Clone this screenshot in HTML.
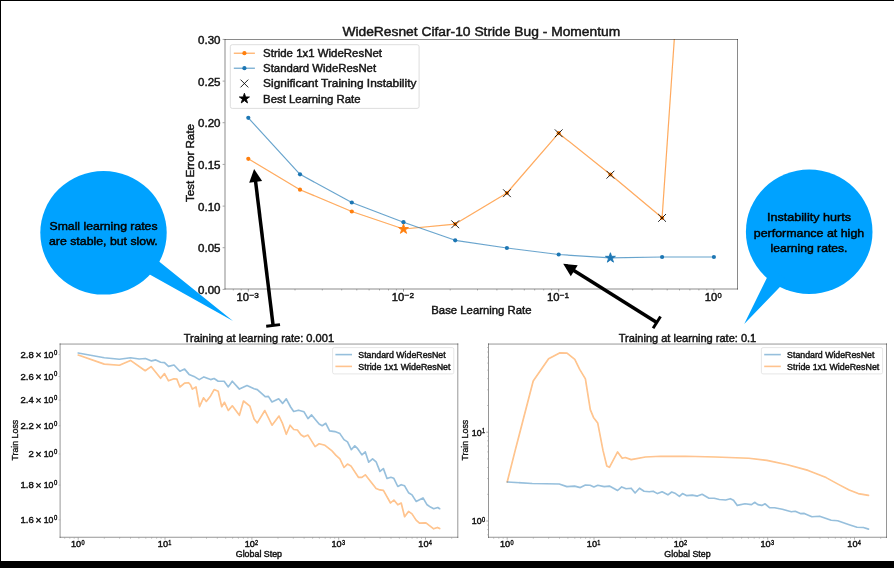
<!DOCTYPE html>
<html><head><meta charset="utf-8"><title>WideResnet Cifar-10 Stride Bug</title>
<style>html,body{margin:0;padding:0;background:#fff;}body{width:894px;height:568px;overflow:hidden;font-family:"Liberation Sans",sans-serif;}svg{display:block;will-change:transform;}text{white-space:pre;}</style></head>
<body>
<svg width="894" height="568" viewBox="0 0 894 568" font-family="'Liberation Sans', sans-serif">
<rect x="0" y="0" width="894" height="568" fill="#fff"/>
<filter id="soft" x="0" y="0" width="894" height="568" filterUnits="userSpaceOnUse"><feGaussianBlur stdDeviation="0.42"/></filter>
<g filter="url(#soft)">
<ellipse cx="103.5" cy="232.8" rx="63.2" ry="61.8" fill="#00a2ff"/>
<polygon points="151.9,255.7 159.7,262.0 233,321.1 150.6,275.1 141.9,270.2" fill="#00a2ff"/>
<ellipse cx="809.2" cy="231.7" rx="63.3" ry="62.3" fill="#00a2ff"/>
<polygon points="771.1,269.2 766.7,278.2 744.2,324.1 779.9,286.9 786.8,279.7" fill="#00a2ff"/>
<text x="103.5" y="229.6" font-size="11.5" text-anchor="middle" fill="#000" textLength="108.0" lengthAdjust="spacingAndGlyphs" stroke="#000" stroke-width="0.45">Small learning rates</text>
<text x="103.4" y="244.9" font-size="11.5" text-anchor="middle" fill="#000" textLength="108.8" lengthAdjust="spacingAndGlyphs" stroke="#000" stroke-width="0.45">are stable, but slow.</text>
<text x="809.0" y="221.3" font-size="11.5" text-anchor="middle" fill="#000" textLength="84.0" lengthAdjust="spacingAndGlyphs" stroke="#000" stroke-width="0.45">Instability hurts</text>
<text x="809.0" y="236.5" font-size="11.5" text-anchor="middle" fill="#000" textLength="110.4" lengthAdjust="spacingAndGlyphs" stroke="#000" stroke-width="0.45">performance at high</text>
<text x="809.0" y="251.6" font-size="11.5" text-anchor="middle" fill="#000" textLength="77.0" lengthAdjust="spacingAndGlyphs" stroke="#000" stroke-width="0.45">learning rates.</text>
<clipPath id="c1"><rect x="224.5" y="39.0" width="513.0" height="250.0"/></clipPath>
<polyline points="248.3,158.8 300.0,189.7 351.8,211.5 403.5,229.0 455.2,224.1 506.9,193.0 558.7,133.2 610.4,174.5 662.1,217.8 679.0,-29.6" fill="none" stroke="#ff7f0e" stroke-width="1.2" stroke-opacity="0.67" stroke-linejoin="round" stroke-linecap="round" clip-path="url(#c1)"/>
<polyline points="248.3,117.8 300.0,174.3 351.8,202.5 403.5,222.2 455.2,240.3 506.9,248.0 558.7,254.5 610.4,257.9 662.1,257.0 713.9,257.0" fill="none" stroke="#1f77b4" stroke-width="1.2" stroke-opacity="0.67" stroke-linejoin="round" stroke-linecap="round" clip-path="url(#c1)"/>
<circle cx="248.3" cy="158.8" r="2.1" fill="#ff7f0e"/>
<circle cx="300.0" cy="189.7" r="2.1" fill="#ff7f0e"/>
<circle cx="351.8" cy="211.5" r="2.1" fill="#ff7f0e"/>
<circle cx="455.2" cy="224.1" r="2.1" fill="#ff7f0e"/>
<circle cx="506.9" cy="193.0" r="2.1" fill="#ff7f0e"/>
<circle cx="558.7" cy="133.2" r="2.1" fill="#ff7f0e"/>
<circle cx="610.4" cy="174.5" r="2.1" fill="#ff7f0e"/>
<circle cx="662.1" cy="217.8" r="2.1" fill="#ff7f0e"/>
<circle cx="248.3" cy="117.8" r="2.1" fill="#1f77b4"/>
<circle cx="300.0" cy="174.3" r="2.1" fill="#1f77b4"/>
<circle cx="351.8" cy="202.5" r="2.1" fill="#1f77b4"/>
<circle cx="403.5" cy="222.2" r="2.1" fill="#1f77b4"/>
<circle cx="455.2" cy="240.3" r="2.1" fill="#1f77b4"/>
<circle cx="506.9" cy="248.0" r="2.1" fill="#1f77b4"/>
<circle cx="558.7" cy="254.5" r="2.1" fill="#1f77b4"/>
<circle cx="662.1" cy="257.0" r="2.1" fill="#1f77b4"/>
<circle cx="713.9" cy="257.0" r="2.1" fill="#1f77b4"/>
<polygon points="403.49,223.95 404.66,227.54 408.44,227.54 405.38,229.76 406.55,233.36 403.49,231.14 400.43,233.36 401.60,229.76 398.54,227.54 402.32,227.54" fill="#ff7f0e" stroke="#ff7f0e" stroke-width="0.9" stroke-linejoin="miter"/>
<polygon points="610.41,252.75 611.58,256.34 615.36,256.34 612.30,258.56 613.47,262.16 610.41,259.94 607.35,262.16 608.52,258.56 605.46,256.34 609.24,256.34" fill="#1f77b4" stroke="#1f77b4" stroke-width="0.9" stroke-linejoin="miter"/>
<path d="M451.3,220.4L459.1,228.2M451.3,228.2L459.1,220.4" stroke="#000" stroke-width="1.0" stroke-opacity="0.85" fill="none"/>
<path d="M503.1,189.3L510.8,197.1M503.1,197.1L510.8,189.3" stroke="#000" stroke-width="1.0" stroke-opacity="0.85" fill="none"/>
<path d="M554.8,129.4L562.6,137.2M554.8,137.2L562.6,129.4" stroke="#000" stroke-width="1.0" stroke-opacity="0.85" fill="none"/>
<path d="M606.5,170.8L614.3,178.6M606.5,178.6L614.3,170.8" stroke="#000" stroke-width="1.0" stroke-opacity="0.85" fill="none"/>
<path d="M658.2,214.0L666.0,221.8M658.2,221.8L666.0,214.0" stroke="#000" stroke-width="1.0" stroke-opacity="0.85" fill="none"/>
<line x1="224.5" x2="738" y1="39.5" y2="39.5" stroke="#000" stroke-opacity="0.46" stroke-width="1"/>
<line x1="224.5" x2="738" y1="289.0" y2="289.0" stroke="#000" stroke-opacity="0.46" stroke-width="1"/>
<line x1="225.0" x2="225.0" y1="39" y2="289.5" stroke="#000" stroke-opacity="0.46" stroke-width="1"/>
<line x1="737.5" x2="737.5" y1="39" y2="289.5" stroke="#000" stroke-opacity="0.46" stroke-width="1"/>
<line x1="222.6" x2="224.5" y1="289.4" y2="289.4" stroke="#000" stroke-opacity="0.45" stroke-width="0.8"/>
<text x="220.5" y="293.9" font-size="10.2" text-anchor="end" fill="#141414" textLength="22.4" lengthAdjust="spacingAndGlyphs" stroke="#141414" stroke-width="0.42">0.00</text>
<line x1="222.6" x2="224.5" y1="247.7" y2="247.7" stroke="#000" stroke-opacity="0.45" stroke-width="0.8"/>
<text x="220.5" y="252.2" font-size="10.2" text-anchor="end" fill="#141414" textLength="22.4" lengthAdjust="spacingAndGlyphs" stroke="#141414" stroke-width="0.42">0.05</text>
<line x1="222.6" x2="224.5" y1="206.1" y2="206.1" stroke="#000" stroke-opacity="0.45" stroke-width="0.8"/>
<text x="220.5" y="210.5" font-size="10.2" text-anchor="end" fill="#141414" textLength="22.4" lengthAdjust="spacingAndGlyphs" stroke="#141414" stroke-width="0.42">0.10</text>
<line x1="222.6" x2="224.5" y1="164.4" y2="164.4" stroke="#000" stroke-opacity="0.45" stroke-width="0.8"/>
<text x="220.5" y="168.8" font-size="10.2" text-anchor="end" fill="#141414" textLength="22.4" lengthAdjust="spacingAndGlyphs" stroke="#141414" stroke-width="0.42">0.15</text>
<line x1="222.6" x2="224.5" y1="122.7" y2="122.7" stroke="#000" stroke-opacity="0.45" stroke-width="0.8"/>
<text x="220.5" y="127.2" font-size="10.2" text-anchor="end" fill="#141414" textLength="22.4" lengthAdjust="spacingAndGlyphs" stroke="#141414" stroke-width="0.42">0.20</text>
<line x1="222.6" x2="224.5" y1="81.1" y2="81.1" stroke="#000" stroke-opacity="0.45" stroke-width="0.8"/>
<text x="220.5" y="85.5" font-size="10.2" text-anchor="end" fill="#141414" textLength="22.4" lengthAdjust="spacingAndGlyphs" stroke="#141414" stroke-width="0.42">0.25</text>
<line x1="222.6" x2="224.5" y1="39.4" y2="39.4" stroke="#000" stroke-opacity="0.45" stroke-width="0.8"/>
<text x="220.5" y="43.8" font-size="10.2" text-anchor="end" fill="#141414" textLength="22.4" lengthAdjust="spacingAndGlyphs" stroke="#141414" stroke-width="0.42">0.30</text>
<line x1="248.3" x2="248.3" y1="289.0" y2="291.6" stroke="#000" stroke-opacity="0.45" stroke-width="0.8"/>
<text x="236.5" y="301.2" font-size="10.4" text-anchor="start" fill="#141414" textLength="12.5" lengthAdjust="spacingAndGlyphs" stroke="#141414" stroke-width="0.42">10</text>
<text x="249.4" y="297.5" font-size="8.0" text-anchor="start" fill="#141414" textLength="9.4" lengthAdjust="spacingAndGlyphs" stroke="#141414" stroke-width="0.42">−3</text>
<line x1="403.5" x2="403.5" y1="289.0" y2="291.6" stroke="#000" stroke-opacity="0.45" stroke-width="0.8"/>
<text x="391.7" y="301.2" font-size="10.4" text-anchor="start" fill="#141414" textLength="12.5" lengthAdjust="spacingAndGlyphs" stroke="#141414" stroke-width="0.42">10</text>
<text x="404.6" y="297.5" font-size="8.0" text-anchor="start" fill="#141414" textLength="9.4" lengthAdjust="spacingAndGlyphs" stroke="#141414" stroke-width="0.42">−2</text>
<line x1="558.7" x2="558.7" y1="289.0" y2="291.6" stroke="#000" stroke-opacity="0.45" stroke-width="0.8"/>
<text x="546.9" y="301.2" font-size="10.4" text-anchor="start" fill="#141414" textLength="12.5" lengthAdjust="spacingAndGlyphs" stroke="#141414" stroke-width="0.42">10</text>
<text x="559.8" y="297.5" font-size="8.0" text-anchor="start" fill="#141414" textLength="9.4" lengthAdjust="spacingAndGlyphs" stroke="#141414" stroke-width="0.42">−1</text>
<line x1="713.9" x2="713.9" y1="289.0" y2="291.6" stroke="#000" stroke-opacity="0.45" stroke-width="0.8"/>
<text x="704.7" y="301.2" font-size="10.4" text-anchor="start" fill="#141414" textLength="12.5" lengthAdjust="spacingAndGlyphs" stroke="#141414" stroke-width="0.42">10</text>
<text x="717.6" y="297.5" font-size="8.0" text-anchor="start" fill="#141414" textLength="4.2" lengthAdjust="spacingAndGlyphs" stroke="#141414" stroke-width="0.42">0</text>
<line x1="233.3" x2="233.3" y1="289.0" y2="290.6" stroke="#000" stroke-opacity="0.4" stroke-width="0.6"/>
<line x1="241.2" x2="241.2" y1="289.0" y2="290.6" stroke="#000" stroke-opacity="0.4" stroke-width="0.6"/>
<line x1="295.0" x2="295.0" y1="289.0" y2="290.6" stroke="#000" stroke-opacity="0.4" stroke-width="0.6"/>
<line x1="322.3" x2="322.3" y1="289.0" y2="290.6" stroke="#000" stroke-opacity="0.4" stroke-width="0.6"/>
<line x1="341.7" x2="341.7" y1="289.0" y2="290.6" stroke="#000" stroke-opacity="0.4" stroke-width="0.6"/>
<line x1="356.8" x2="356.8" y1="289.0" y2="290.6" stroke="#000" stroke-opacity="0.4" stroke-width="0.6"/>
<line x1="369.1" x2="369.1" y1="289.0" y2="290.6" stroke="#000" stroke-opacity="0.4" stroke-width="0.6"/>
<line x1="379.5" x2="379.5" y1="289.0" y2="290.6" stroke="#000" stroke-opacity="0.4" stroke-width="0.6"/>
<line x1="388.5" x2="388.5" y1="289.0" y2="290.6" stroke="#000" stroke-opacity="0.4" stroke-width="0.6"/>
<line x1="396.4" x2="396.4" y1="289.0" y2="290.6" stroke="#000" stroke-opacity="0.4" stroke-width="0.6"/>
<line x1="450.2" x2="450.2" y1="289.0" y2="290.6" stroke="#000" stroke-opacity="0.4" stroke-width="0.6"/>
<line x1="477.5" x2="477.5" y1="289.0" y2="290.6" stroke="#000" stroke-opacity="0.4" stroke-width="0.6"/>
<line x1="496.9" x2="496.9" y1="289.0" y2="290.6" stroke="#000" stroke-opacity="0.4" stroke-width="0.6"/>
<line x1="512.0" x2="512.0" y1="289.0" y2="290.6" stroke="#000" stroke-opacity="0.4" stroke-width="0.6"/>
<line x1="524.3" x2="524.3" y1="289.0" y2="290.6" stroke="#000" stroke-opacity="0.4" stroke-width="0.6"/>
<line x1="534.7" x2="534.7" y1="289.0" y2="290.6" stroke="#000" stroke-opacity="0.4" stroke-width="0.6"/>
<line x1="543.7" x2="543.7" y1="289.0" y2="290.6" stroke="#000" stroke-opacity="0.4" stroke-width="0.6"/>
<line x1="551.6" x2="551.6" y1="289.0" y2="290.6" stroke="#000" stroke-opacity="0.4" stroke-width="0.6"/>
<line x1="605.4" x2="605.4" y1="289.0" y2="290.6" stroke="#000" stroke-opacity="0.4" stroke-width="0.6"/>
<line x1="632.7" x2="632.7" y1="289.0" y2="290.6" stroke="#000" stroke-opacity="0.4" stroke-width="0.6"/>
<line x1="652.1" x2="652.1" y1="289.0" y2="290.6" stroke="#000" stroke-opacity="0.4" stroke-width="0.6"/>
<line x1="667.2" x2="667.2" y1="289.0" y2="290.6" stroke="#000" stroke-opacity="0.4" stroke-width="0.6"/>
<line x1="679.5" x2="679.5" y1="289.0" y2="290.6" stroke="#000" stroke-opacity="0.4" stroke-width="0.6"/>
<line x1="689.9" x2="689.9" y1="289.0" y2="290.6" stroke="#000" stroke-opacity="0.4" stroke-width="0.6"/>
<line x1="698.9" x2="698.9" y1="289.0" y2="290.6" stroke="#000" stroke-opacity="0.4" stroke-width="0.6"/>
<line x1="706.8" x2="706.8" y1="289.0" y2="290.6" stroke="#000" stroke-opacity="0.4" stroke-width="0.6"/>
<text x="481.4" y="313.5" font-size="10.4" text-anchor="middle" fill="#141414" textLength="100.2" lengthAdjust="spacingAndGlyphs" stroke="#141414" stroke-width="0.42">Base Learning Rate</text>
<text transform="translate(193.9,163) rotate(-90)" font-size="10.4" text-anchor="middle" fill="#141414" stroke="#141414" stroke-width="0.42" textLength="78" lengthAdjust="spacingAndGlyphs">Test Error Rate</text>
<text x="481.3" y="36.1" font-size="12.5" text-anchor="middle" fill="#141414" textLength="277.8" lengthAdjust="spacingAndGlyphs" stroke="#141414" stroke-width="0.42">WideResnet Cifar-10 Stride Bug - Momentum</text>
<rect x="230.3" y="44.7" width="188.8" height="63.7" rx="2" fill="#fff" fill-opacity="0.8" stroke="#d4d4d4" stroke-width="0.8"/>
<line x1="233.8" x2="254.9" y1="53.2" y2="53.2" stroke="#ff7f0e" stroke-width="1.1" stroke-opacity="0.72"/><circle cx="244.4" cy="53.2" r="2.1" fill="#ff7f0e"/>
<line x1="233.8" x2="254.9" y1="68.2" y2="68.2" stroke="#1f77b4" stroke-width="1.1" stroke-opacity="0.72"/><circle cx="244.4" cy="68.2" r="2.1" fill="#1f77b4"/>
<path d="M240.5,79.6L248.3,87.4M240.5,87.4L248.3,79.6" stroke="#000" stroke-width="1.0" stroke-opacity="0.85" fill="none"/>
<polygon points="244.40,93.30 245.59,96.96 249.44,96.96 246.33,99.23 247.52,102.89 244.40,100.62 241.28,102.89 242.47,99.23 239.36,96.96 243.21,96.96" fill="#000" stroke="#000" stroke-width="0.9" stroke-linejoin="miter"/>
<text x="263.1" y="56.7" font-size="10.4" text-anchor="start" fill="#141414" textLength="118.9" lengthAdjust="spacingAndGlyphs" stroke="#141414" stroke-width="0.42">Stride 1x1 WideResNet</text>
<text x="263.1" y="72.0" font-size="10.4" text-anchor="start" fill="#141414" textLength="113.0" lengthAdjust="spacingAndGlyphs" stroke="#141414" stroke-width="0.42">Standard WideResNet</text>
<text x="263.1" y="87.4" font-size="10.4" text-anchor="start" fill="#141414" textLength="153.3" lengthAdjust="spacingAndGlyphs" stroke="#141414" stroke-width="0.42">Significant Training Instability</text>
<text x="263.1" y="102.7" font-size="10.4" text-anchor="start" fill="#141414" textLength="97.4" lengthAdjust="spacingAndGlyphs" stroke="#141414" stroke-width="0.42">Best Learning Rate</text>
<line x1="273.1" y1="325.4" x2="255.5" y2="180.9" stroke="#000" stroke-width="3.5"/>
<polygon points="254.1,169.0 262.1,181.1 249.2,182.7" fill="#000"/>
<line x1="280.0" y1="324.6" x2="266.2" y2="326.2" stroke="#000" stroke-width="2.9"/>
<line x1="656.8" y1="322.4" x2="573.4" y2="270.2" stroke="#000" stroke-width="3.5"/>
<polygon points="563.2,263.8 577.7,265.2 570.8,276.2" fill="#000"/>
<line x1="660.5" y1="316.5" x2="653.1" y2="328.3" stroke="#000" stroke-width="2.9"/>
<line x1="59.6" x2="458.3" y1="344.05" y2="344.05" stroke="#000" stroke-opacity="0.41" stroke-width="1"/>
<line x1="59.6" x2="458.3" y1="537.25" y2="537.25" stroke="#000" stroke-opacity="0.41" stroke-width="1"/>
<line x1="60.1" x2="60.1" y1="343.4" y2="537.8" stroke="#000" stroke-opacity="0.41" stroke-width="1"/>
<line x1="457.8" x2="457.8" y1="343.4" y2="537.8" stroke="#000" stroke-opacity="0.41" stroke-width="1"/>
<text x="258.9" y="341.6" font-size="10" text-anchor="middle" fill="#141414" textLength="150.4" lengthAdjust="spacingAndGlyphs" stroke="#141414" stroke-width="0.42">Training at learning rate: 0.001</text>
<text x="258.9" y="556.6" font-size="8.3" text-anchor="middle" fill="#141414" textLength="46.3" lengthAdjust="spacingAndGlyphs" stroke="#141414" stroke-width="0.42">Global Step</text>
<rect x="332.6" y="347.6" width="121.2" height="26.3" rx="1.6" fill="#fff" stroke="#dcdcdc" stroke-width="0.7"/>
<line x1="335.40000000000003" x2="352.0" y1="354.6" y2="354.6" stroke="#1f77b4" stroke-width="1.6" stroke-opacity="0.47"/>
<line x1="335.40000000000003" x2="352.0" y1="366.4" y2="366.4" stroke="#ff7f0e" stroke-width="1.6" stroke-opacity="0.47"/>
<text x="358.3" y="358.0" font-size="8.3" text-anchor="start" fill="#141414" textLength="87.3" lengthAdjust="spacingAndGlyphs" stroke="#141414" stroke-width="0.42">Standard WideResNet</text>
<text x="358.3" y="369.8" font-size="8.3" text-anchor="start" fill="#141414" textLength="92.2" lengthAdjust="spacingAndGlyphs" stroke="#141414" stroke-width="0.42">Stride 1x1 WideResNet</text>
<line x1="78.2" x2="78.2" y1="537.3" y2="539.6999999999999" stroke="#8e8e8e" stroke-width="0.7"/>
<text x="71.0" y="547.0" font-size="8.3" text-anchor="start" fill="#141414" textLength="10.2" lengthAdjust="spacingAndGlyphs" stroke="#141414" stroke-width="0.42">10</text>
<text x="81.4" y="544.6" font-size="6.6" text-anchor="start" fill="#141414" textLength="3.1" lengthAdjust="spacingAndGlyphs" stroke="#141414" stroke-width="0.42">0</text>
<line x1="165.0" x2="165.0" y1="537.3" y2="539.6999999999999" stroke="#8e8e8e" stroke-width="0.7"/>
<text x="157.8" y="547.0" font-size="8.3" text-anchor="start" fill="#141414" textLength="10.2" lengthAdjust="spacingAndGlyphs" stroke="#141414" stroke-width="0.42">10</text>
<text x="168.2" y="544.6" font-size="6.6" text-anchor="start" fill="#141414" textLength="3.1" lengthAdjust="spacingAndGlyphs" stroke="#141414" stroke-width="0.42">1</text>
<line x1="251.9" x2="251.9" y1="537.3" y2="539.6999999999999" stroke="#8e8e8e" stroke-width="0.7"/>
<text x="244.7" y="547.0" font-size="8.3" text-anchor="start" fill="#141414" textLength="10.2" lengthAdjust="spacingAndGlyphs" stroke="#141414" stroke-width="0.42">10</text>
<text x="255.1" y="544.6" font-size="6.6" text-anchor="start" fill="#141414" textLength="3.1" lengthAdjust="spacingAndGlyphs" stroke="#141414" stroke-width="0.42">2</text>
<line x1="338.7" x2="338.7" y1="537.3" y2="539.6999999999999" stroke="#8e8e8e" stroke-width="0.7"/>
<text x="331.5" y="547.0" font-size="8.3" text-anchor="start" fill="#141414" textLength="10.2" lengthAdjust="spacingAndGlyphs" stroke="#141414" stroke-width="0.42">10</text>
<text x="341.9" y="544.6" font-size="6.6" text-anchor="start" fill="#141414" textLength="3.1" lengthAdjust="spacingAndGlyphs" stroke="#141414" stroke-width="0.42">3</text>
<line x1="425.5" x2="425.5" y1="537.3" y2="539.6999999999999" stroke="#8e8e8e" stroke-width="0.7"/>
<text x="418.3" y="547.0" font-size="8.3" text-anchor="start" fill="#141414" textLength="10.2" lengthAdjust="spacingAndGlyphs" stroke="#141414" stroke-width="0.42">10</text>
<text x="428.7" y="544.6" font-size="6.6" text-anchor="start" fill="#141414" textLength="3.1" lengthAdjust="spacingAndGlyphs" stroke="#141414" stroke-width="0.42">4</text>
<line x1="64.7" x2="64.7" y1="537.3" y2="538.8" stroke="#8e8e8e" stroke-width="0.5"/>
<line x1="69.8" x2="69.8" y1="537.3" y2="538.8" stroke="#8e8e8e" stroke-width="0.5"/>
<line x1="74.2" x2="74.2" y1="537.3" y2="538.8" stroke="#8e8e8e" stroke-width="0.5"/>
<line x1="104.3" x2="104.3" y1="537.3" y2="538.8" stroke="#8e8e8e" stroke-width="0.5"/>
<line x1="119.6" x2="119.6" y1="537.3" y2="538.8" stroke="#8e8e8e" stroke-width="0.5"/>
<line x1="130.5" x2="130.5" y1="537.3" y2="538.8" stroke="#8e8e8e" stroke-width="0.5"/>
<line x1="138.9" x2="138.9" y1="537.3" y2="538.8" stroke="#8e8e8e" stroke-width="0.5"/>
<line x1="145.8" x2="145.8" y1="537.3" y2="538.8" stroke="#8e8e8e" stroke-width="0.5"/>
<line x1="151.6" x2="151.6" y1="537.3" y2="538.8" stroke="#8e8e8e" stroke-width="0.5"/>
<line x1="156.6" x2="156.6" y1="537.3" y2="538.8" stroke="#8e8e8e" stroke-width="0.5"/>
<line x1="161.1" x2="161.1" y1="537.3" y2="538.8" stroke="#8e8e8e" stroke-width="0.5"/>
<line x1="191.2" x2="191.2" y1="537.3" y2="538.8" stroke="#8e8e8e" stroke-width="0.5"/>
<line x1="206.5" x2="206.5" y1="537.3" y2="538.8" stroke="#8e8e8e" stroke-width="0.5"/>
<line x1="217.3" x2="217.3" y1="537.3" y2="538.8" stroke="#8e8e8e" stroke-width="0.5"/>
<line x1="225.7" x2="225.7" y1="537.3" y2="538.8" stroke="#8e8e8e" stroke-width="0.5"/>
<line x1="232.6" x2="232.6" y1="537.3" y2="538.8" stroke="#8e8e8e" stroke-width="0.5"/>
<line x1="238.4" x2="238.4" y1="537.3" y2="538.8" stroke="#8e8e8e" stroke-width="0.5"/>
<line x1="243.4" x2="243.4" y1="537.3" y2="538.8" stroke="#8e8e8e" stroke-width="0.5"/>
<line x1="247.9" x2="247.9" y1="537.3" y2="538.8" stroke="#8e8e8e" stroke-width="0.5"/>
<line x1="278.0" x2="278.0" y1="537.3" y2="538.8" stroke="#8e8e8e" stroke-width="0.5"/>
<line x1="293.3" x2="293.3" y1="537.3" y2="538.8" stroke="#8e8e8e" stroke-width="0.5"/>
<line x1="304.1" x2="304.1" y1="537.3" y2="538.8" stroke="#8e8e8e" stroke-width="0.5"/>
<line x1="312.6" x2="312.6" y1="537.3" y2="538.8" stroke="#8e8e8e" stroke-width="0.5"/>
<line x1="319.4" x2="319.4" y1="537.3" y2="538.8" stroke="#8e8e8e" stroke-width="0.5"/>
<line x1="325.2" x2="325.2" y1="537.3" y2="538.8" stroke="#8e8e8e" stroke-width="0.5"/>
<line x1="330.3" x2="330.3" y1="537.3" y2="538.8" stroke="#8e8e8e" stroke-width="0.5"/>
<line x1="334.7" x2="334.7" y1="537.3" y2="538.8" stroke="#8e8e8e" stroke-width="0.5"/>
<line x1="364.8" x2="364.8" y1="537.3" y2="538.8" stroke="#8e8e8e" stroke-width="0.5"/>
<line x1="380.1" x2="380.1" y1="537.3" y2="538.8" stroke="#8e8e8e" stroke-width="0.5"/>
<line x1="391.0" x2="391.0" y1="537.3" y2="538.8" stroke="#8e8e8e" stroke-width="0.5"/>
<line x1="399.4" x2="399.4" y1="537.3" y2="538.8" stroke="#8e8e8e" stroke-width="0.5"/>
<line x1="406.3" x2="406.3" y1="537.3" y2="538.8" stroke="#8e8e8e" stroke-width="0.5"/>
<line x1="412.1" x2="412.1" y1="537.3" y2="538.8" stroke="#8e8e8e" stroke-width="0.5"/>
<line x1="417.1" x2="417.1" y1="537.3" y2="538.8" stroke="#8e8e8e" stroke-width="0.5"/>
<line x1="421.5" x2="421.5" y1="537.3" y2="538.8" stroke="#8e8e8e" stroke-width="0.5"/>
<line x1="451.7" x2="451.7" y1="537.3" y2="538.8" stroke="#8e8e8e" stroke-width="0.5"/>
<text transform="translate(17.8,440.2) rotate(-90)" font-size="9" text-anchor="middle" fill="#141414" stroke="#141414" stroke-width="0.33" textLength="40.8" lengthAdjust="spacingAndGlyphs">Train Loss</text>
<line x1="58.5" x2="60.1" y1="354.6" y2="354.6" stroke="#8e8e8e" stroke-width="0.5"/>
<text x="54.0" y="354.5" font-size="6.6" text-anchor="start" fill="#141414" textLength="3.3" lengthAdjust="spacingAndGlyphs" stroke="#141414" stroke-width="0.42">0</text>
<text x="43.7" y="357.6" font-size="8.6" text-anchor="start" fill="#141414" textLength="9.7" lengthAdjust="spacingAndGlyphs" stroke="#141414" stroke-width="0.42">10</text>
<path d="M36.3,352.6l4.4,4.6m0,-4.6l-4.4,4.6" stroke="#141414" stroke-width="1.2" fill="none"/>
<text x="20.6" y="357.6" font-size="8.6" text-anchor="start" fill="#141414" textLength="13.2" lengthAdjust="spacingAndGlyphs" stroke="#141414" stroke-width="0.42">2.8</text>
<line x1="58.5" x2="60.1" y1="376.5" y2="376.5" stroke="#8e8e8e" stroke-width="0.5"/>
<text x="54.0" y="376.4" font-size="6.6" text-anchor="start" fill="#141414" textLength="3.3" lengthAdjust="spacingAndGlyphs" stroke="#141414" stroke-width="0.42">0</text>
<text x="43.7" y="379.5" font-size="8.6" text-anchor="start" fill="#141414" textLength="9.7" lengthAdjust="spacingAndGlyphs" stroke="#141414" stroke-width="0.42">10</text>
<path d="M36.3,374.5l4.4,4.6m0,-4.6l-4.4,4.6" stroke="#141414" stroke-width="1.2" fill="none"/>
<text x="20.6" y="379.5" font-size="8.6" text-anchor="start" fill="#141414" textLength="13.2" lengthAdjust="spacingAndGlyphs" stroke="#141414" stroke-width="0.42">2.6</text>
<line x1="58.5" x2="60.1" y1="400.1" y2="400.1" stroke="#8e8e8e" stroke-width="0.5"/>
<text x="54.0" y="400.0" font-size="6.6" text-anchor="start" fill="#141414" textLength="3.3" lengthAdjust="spacingAndGlyphs" stroke="#141414" stroke-width="0.42">0</text>
<text x="43.7" y="403.1" font-size="8.6" text-anchor="start" fill="#141414" textLength="9.7" lengthAdjust="spacingAndGlyphs" stroke="#141414" stroke-width="0.42">10</text>
<path d="M36.3,398.1l4.4,4.6m0,-4.6l-4.4,4.6" stroke="#141414" stroke-width="1.2" fill="none"/>
<text x="20.6" y="403.1" font-size="8.6" text-anchor="start" fill="#141414" textLength="13.2" lengthAdjust="spacingAndGlyphs" stroke="#141414" stroke-width="0.42">2.4</text>
<line x1="58.5" x2="60.1" y1="425.8" y2="425.8" stroke="#8e8e8e" stroke-width="0.5"/>
<text x="54.0" y="425.7" font-size="6.6" text-anchor="start" fill="#141414" textLength="3.3" lengthAdjust="spacingAndGlyphs" stroke="#141414" stroke-width="0.42">0</text>
<text x="43.7" y="428.8" font-size="8.6" text-anchor="start" fill="#141414" textLength="9.7" lengthAdjust="spacingAndGlyphs" stroke="#141414" stroke-width="0.42">10</text>
<path d="M36.3,423.8l4.4,4.6m0,-4.6l-4.4,4.6" stroke="#141414" stroke-width="1.2" fill="none"/>
<text x="20.6" y="428.8" font-size="8.6" text-anchor="start" fill="#141414" textLength="13.2" lengthAdjust="spacingAndGlyphs" stroke="#141414" stroke-width="0.42">2.2</text>
<line x1="58.5" x2="60.1" y1="454.0" y2="454.0" stroke="#8e8e8e" stroke-width="0.5"/>
<text x="54.0" y="453.9" font-size="6.6" text-anchor="start" fill="#141414" textLength="3.3" lengthAdjust="spacingAndGlyphs" stroke="#141414" stroke-width="0.42">0</text>
<text x="43.7" y="457.0" font-size="8.6" text-anchor="start" fill="#141414" textLength="9.7" lengthAdjust="spacingAndGlyphs" stroke="#141414" stroke-width="0.42">10</text>
<path d="M36.3,452.0l4.4,4.6m0,-4.6l-4.4,4.6" stroke="#141414" stroke-width="1.2" fill="none"/>
<text x="28.5" y="457.0" font-size="8.6" text-anchor="start" fill="#141414" textLength="5.3" lengthAdjust="spacingAndGlyphs" stroke="#141414" stroke-width="0.42">2</text>
<line x1="58.5" x2="60.1" y1="485.1" y2="485.1" stroke="#8e8e8e" stroke-width="0.5"/>
<text x="54.0" y="485.0" font-size="6.6" text-anchor="start" fill="#141414" textLength="3.3" lengthAdjust="spacingAndGlyphs" stroke="#141414" stroke-width="0.42">0</text>
<text x="43.7" y="488.1" font-size="8.6" text-anchor="start" fill="#141414" textLength="9.7" lengthAdjust="spacingAndGlyphs" stroke="#141414" stroke-width="0.42">10</text>
<path d="M36.3,483.1l4.4,4.6m0,-4.6l-4.4,4.6" stroke="#141414" stroke-width="1.2" fill="none"/>
<text x="20.6" y="488.1" font-size="8.6" text-anchor="start" fill="#141414" textLength="13.2" lengthAdjust="spacingAndGlyphs" stroke="#141414" stroke-width="0.42">1.8</text>
<line x1="58.5" x2="60.1" y1="519.9" y2="519.9" stroke="#8e8e8e" stroke-width="0.5"/>
<text x="54.0" y="519.8" font-size="6.6" text-anchor="start" fill="#141414" textLength="3.3" lengthAdjust="spacingAndGlyphs" stroke="#141414" stroke-width="0.42">0</text>
<text x="43.7" y="522.9" font-size="8.6" text-anchor="start" fill="#141414" textLength="9.7" lengthAdjust="spacingAndGlyphs" stroke="#141414" stroke-width="0.42">10</text>
<path d="M36.3,517.9l4.4,4.6m0,-4.6l-4.4,4.6" stroke="#141414" stroke-width="1.2" fill="none"/>
<text x="20.6" y="522.9" font-size="8.6" text-anchor="start" fill="#141414" textLength="13.2" lengthAdjust="spacingAndGlyphs" stroke="#141414" stroke-width="0.42">1.6</text>
<polyline points="78.2,355.0 104.3,364.1 119.4,365.2 130.5,360.4 145.2,370.7 151.1,366.6 160.6,378.3 164.5,373.6 168.5,380.8 174.0,378.8 176.9,379.1 179.9,387.0 184.6,383.1 188.6,382.7 190.5,384.8 192.4,389.1 196.0,386.9 199.5,406.7 203.5,397.8 206.3,401.5 210.6,395.9 214.1,389.6 218.2,391.2 221.7,406.7 224.5,402.3 228.3,410.5 232.3,405.8 239.4,415.3 243.5,401.0 249.9,406.2 254.1,418.9 257.3,422.9 264.8,410.5 272.0,425.2 279.0,416.0 282.6,423.7 286.3,434.3 290.1,425.2 293.7,429.5 297.4,430.0 300.9,434.7 304.0,436.8 308.0,435.1 315.1,446.6 319.1,443.8 325.0,445.3 331.4,450.3 336.0,455.4 339.9,458.8 344.0,467.5 347.5,464.1 350.9,465.9 358.4,477.3 361.9,477.3 365.3,474.8 376.1,488.5 379.9,489.9 383.4,490.4 390.5,503.0 393.9,500.0 397.8,504.8 401.2,503.0 404.6,516.7 408.5,511.4 412.0,513.9 416.1,520.1 419.5,523.1 425.9,522.9 433.7,528.8 437.4,527.4 439.7,528.6" fill="none" stroke="#ff7f0e" stroke-width="1.65" stroke-opacity="0.47" stroke-linejoin="round" stroke-linecap="round"/>
<polyline points="78.2,353.0 104.3,357.7 119.4,359.3 130.5,357.7 139.2,359.0 145.5,358.5 151.5,360.9 155.8,359.9 160.6,362.2 164.5,362.6 168.5,366.4 174.0,365.0 179.9,371.2 184.6,369.1 189.1,374.4 194.0,376.4 199.2,379.6 203.9,376.9 210.6,379.6 214.1,378.5 218.2,381.2 224.1,381.2 228.3,386.9 232.3,381.2 239.4,389.1 247.0,385.6 254.1,388.8 257.3,389.6 265.2,396.7 268.4,396.4 272.0,402.0 278.7,398.8 282.6,403.4 286.3,398.8 290.6,407.0 293.7,411.5 298.5,410.2 304.0,411.8 308.0,418.6 311.6,414.9 319.1,424.1 322.2,425.7 325.8,423.3 329.6,430.9 334.9,431.6 339.9,433.6 344.0,439.6 347.5,441.9 351.3,449.7 354.8,445.8 357.7,448.7 361.9,454.9 365.3,451.9 368.7,462.2 372.6,458.8 376.1,461.8 379.9,471.4 383.4,468.6 387.0,478.5 390.9,477.3 393.7,478.2 397.8,486.5 401.2,484.7 404.6,485.8 408.5,492.7 412.0,494.9 416.1,501.4 423.0,497.9 427.1,504.8 430.5,507.1 433.7,508.7 437.8,507.5 439.7,508.7" fill="none" stroke="#1f77b4" stroke-width="1.65" stroke-opacity="0.47" stroke-linejoin="round" stroke-linecap="round"/>
<line x1="488.0" x2="887.0" y1="344.05" y2="344.05" stroke="#000" stroke-opacity="0.41" stroke-width="1"/>
<line x1="488.0" x2="887.0" y1="537.25" y2="537.25" stroke="#000" stroke-opacity="0.41" stroke-width="1"/>
<line x1="488.5" x2="488.5" y1="343.4" y2="537.8" stroke="#000" stroke-opacity="0.41" stroke-width="1"/>
<line x1="886.5" x2="886.5" y1="343.4" y2="537.8" stroke="#000" stroke-opacity="0.41" stroke-width="1"/>
<text x="687.5" y="341.6" font-size="10" text-anchor="middle" fill="#141414" textLength="137.5" lengthAdjust="spacingAndGlyphs" stroke="#141414" stroke-width="0.42">Training at learning rate: 0.1</text>
<text x="687.5" y="556.6" font-size="8.3" text-anchor="middle" fill="#141414" textLength="46.3" lengthAdjust="spacingAndGlyphs" stroke="#141414" stroke-width="0.42">Global Step</text>
<rect x="761.4" y="347.6" width="121.2" height="26.3" rx="1.6" fill="#fff" stroke="#dcdcdc" stroke-width="0.7"/>
<line x1="764.1999999999999" x2="780.8" y1="354.6" y2="354.6" stroke="#1f77b4" stroke-width="1.6" stroke-opacity="0.47"/>
<line x1="764.1999999999999" x2="780.8" y1="366.4" y2="366.4" stroke="#ff7f0e" stroke-width="1.6" stroke-opacity="0.47"/>
<text x="787.1" y="358.0" font-size="8.3" text-anchor="start" fill="#141414" textLength="87.3" lengthAdjust="spacingAndGlyphs" stroke="#141414" stroke-width="0.42">Standard WideResNet</text>
<text x="787.1" y="369.8" font-size="8.3" text-anchor="start" fill="#141414" textLength="92.2" lengthAdjust="spacingAndGlyphs" stroke="#141414" stroke-width="0.42">Stride 1x1 WideResNet</text>
<line x1="507.2" x2="507.2" y1="537.3" y2="539.6999999999999" stroke="#8e8e8e" stroke-width="0.7"/>
<text x="500.0" y="547.0" font-size="8.3" text-anchor="start" fill="#141414" textLength="10.2" lengthAdjust="spacingAndGlyphs" stroke="#141414" stroke-width="0.42">10</text>
<text x="510.4" y="544.6" font-size="6.6" text-anchor="start" fill="#141414" textLength="3.1" lengthAdjust="spacingAndGlyphs" stroke="#141414" stroke-width="0.42">0</text>
<line x1="594.0" x2="594.0" y1="537.3" y2="539.6999999999999" stroke="#8e8e8e" stroke-width="0.7"/>
<text x="586.8" y="547.0" font-size="8.3" text-anchor="start" fill="#141414" textLength="10.2" lengthAdjust="spacingAndGlyphs" stroke="#141414" stroke-width="0.42">10</text>
<text x="597.2" y="544.6" font-size="6.6" text-anchor="start" fill="#141414" textLength="3.1" lengthAdjust="spacingAndGlyphs" stroke="#141414" stroke-width="0.42">1</text>
<line x1="680.9" x2="680.9" y1="537.3" y2="539.6999999999999" stroke="#8e8e8e" stroke-width="0.7"/>
<text x="673.7" y="547.0" font-size="8.3" text-anchor="start" fill="#141414" textLength="10.2" lengthAdjust="spacingAndGlyphs" stroke="#141414" stroke-width="0.42">10</text>
<text x="684.1" y="544.6" font-size="6.6" text-anchor="start" fill="#141414" textLength="3.1" lengthAdjust="spacingAndGlyphs" stroke="#141414" stroke-width="0.42">2</text>
<line x1="767.7" x2="767.7" y1="537.3" y2="539.6999999999999" stroke="#8e8e8e" stroke-width="0.7"/>
<text x="760.5" y="547.0" font-size="8.3" text-anchor="start" fill="#141414" textLength="10.2" lengthAdjust="spacingAndGlyphs" stroke="#141414" stroke-width="0.42">10</text>
<text x="770.9" y="544.6" font-size="6.6" text-anchor="start" fill="#141414" textLength="3.1" lengthAdjust="spacingAndGlyphs" stroke="#141414" stroke-width="0.42">3</text>
<line x1="854.5" x2="854.5" y1="537.3" y2="539.6999999999999" stroke="#8e8e8e" stroke-width="0.7"/>
<text x="847.3" y="547.0" font-size="8.3" text-anchor="start" fill="#141414" textLength="10.2" lengthAdjust="spacingAndGlyphs" stroke="#141414" stroke-width="0.42">10</text>
<text x="857.7" y="544.6" font-size="6.6" text-anchor="start" fill="#141414" textLength="3.1" lengthAdjust="spacingAndGlyphs" stroke="#141414" stroke-width="0.42">4</text>
<line x1="493.7" x2="493.7" y1="537.3" y2="538.8" stroke="#8e8e8e" stroke-width="0.5"/>
<line x1="498.8" x2="498.8" y1="537.3" y2="538.8" stroke="#8e8e8e" stroke-width="0.5"/>
<line x1="503.2" x2="503.2" y1="537.3" y2="538.8" stroke="#8e8e8e" stroke-width="0.5"/>
<line x1="533.3" x2="533.3" y1="537.3" y2="538.8" stroke="#8e8e8e" stroke-width="0.5"/>
<line x1="548.6" x2="548.6" y1="537.3" y2="538.8" stroke="#8e8e8e" stroke-width="0.5"/>
<line x1="559.5" x2="559.5" y1="537.3" y2="538.8" stroke="#8e8e8e" stroke-width="0.5"/>
<line x1="567.9" x2="567.9" y1="537.3" y2="538.8" stroke="#8e8e8e" stroke-width="0.5"/>
<line x1="574.8" x2="574.8" y1="537.3" y2="538.8" stroke="#8e8e8e" stroke-width="0.5"/>
<line x1="580.6" x2="580.6" y1="537.3" y2="538.8" stroke="#8e8e8e" stroke-width="0.5"/>
<line x1="585.6" x2="585.6" y1="537.3" y2="538.8" stroke="#8e8e8e" stroke-width="0.5"/>
<line x1="590.1" x2="590.1" y1="537.3" y2="538.8" stroke="#8e8e8e" stroke-width="0.5"/>
<line x1="620.2" x2="620.2" y1="537.3" y2="538.8" stroke="#8e8e8e" stroke-width="0.5"/>
<line x1="635.5" x2="635.5" y1="537.3" y2="538.8" stroke="#8e8e8e" stroke-width="0.5"/>
<line x1="646.3" x2="646.3" y1="537.3" y2="538.8" stroke="#8e8e8e" stroke-width="0.5"/>
<line x1="654.7" x2="654.7" y1="537.3" y2="538.8" stroke="#8e8e8e" stroke-width="0.5"/>
<line x1="661.6" x2="661.6" y1="537.3" y2="538.8" stroke="#8e8e8e" stroke-width="0.5"/>
<line x1="667.4" x2="667.4" y1="537.3" y2="538.8" stroke="#8e8e8e" stroke-width="0.5"/>
<line x1="672.4" x2="672.4" y1="537.3" y2="538.8" stroke="#8e8e8e" stroke-width="0.5"/>
<line x1="676.9" x2="676.9" y1="537.3" y2="538.8" stroke="#8e8e8e" stroke-width="0.5"/>
<line x1="707.0" x2="707.0" y1="537.3" y2="538.8" stroke="#8e8e8e" stroke-width="0.5"/>
<line x1="722.3" x2="722.3" y1="537.3" y2="538.8" stroke="#8e8e8e" stroke-width="0.5"/>
<line x1="733.1" x2="733.1" y1="537.3" y2="538.8" stroke="#8e8e8e" stroke-width="0.5"/>
<line x1="741.6" x2="741.6" y1="537.3" y2="538.8" stroke="#8e8e8e" stroke-width="0.5"/>
<line x1="748.4" x2="748.4" y1="537.3" y2="538.8" stroke="#8e8e8e" stroke-width="0.5"/>
<line x1="754.2" x2="754.2" y1="537.3" y2="538.8" stroke="#8e8e8e" stroke-width="0.5"/>
<line x1="759.3" x2="759.3" y1="537.3" y2="538.8" stroke="#8e8e8e" stroke-width="0.5"/>
<line x1="763.7" x2="763.7" y1="537.3" y2="538.8" stroke="#8e8e8e" stroke-width="0.5"/>
<line x1="793.8" x2="793.8" y1="537.3" y2="538.8" stroke="#8e8e8e" stroke-width="0.5"/>
<line x1="809.1" x2="809.1" y1="537.3" y2="538.8" stroke="#8e8e8e" stroke-width="0.5"/>
<line x1="820.0" x2="820.0" y1="537.3" y2="538.8" stroke="#8e8e8e" stroke-width="0.5"/>
<line x1="828.4" x2="828.4" y1="537.3" y2="538.8" stroke="#8e8e8e" stroke-width="0.5"/>
<line x1="835.3" x2="835.3" y1="537.3" y2="538.8" stroke="#8e8e8e" stroke-width="0.5"/>
<line x1="841.1" x2="841.1" y1="537.3" y2="538.8" stroke="#8e8e8e" stroke-width="0.5"/>
<line x1="846.1" x2="846.1" y1="537.3" y2="538.8" stroke="#8e8e8e" stroke-width="0.5"/>
<line x1="850.5" x2="850.5" y1="537.3" y2="538.8" stroke="#8e8e8e" stroke-width="0.5"/>
<line x1="880.7" x2="880.7" y1="537.3" y2="538.8" stroke="#8e8e8e" stroke-width="0.5"/>
<text transform="translate(467.7,440.2) rotate(-90)" font-size="9" text-anchor="middle" fill="#141414" stroke="#141414" stroke-width="0.33" textLength="40.8" lengthAdjust="spacingAndGlyphs">Train Loss</text>
<line x1="486.20000000000005" x2="488.6" y1="432.2" y2="432.2" stroke="#8e8e8e" stroke-width="0.7"/>
<text x="471.7" y="435.5" font-size="8.3" text-anchor="start" fill="#141414" textLength="9.9" lengthAdjust="spacingAndGlyphs" stroke="#141414" stroke-width="0.42">10</text>
<text x="482.1" y="433.1" font-size="6.6" text-anchor="start" fill="#141414" textLength="2.9" lengthAdjust="spacingAndGlyphs" stroke="#141414" stroke-width="0.42">1</text>
<line x1="486.20000000000005" x2="488.6" y1="521.0" y2="521.0" stroke="#8e8e8e" stroke-width="0.7"/>
<text x="471.7" y="524.3" font-size="8.3" text-anchor="start" fill="#141414" textLength="9.9" lengthAdjust="spacingAndGlyphs" stroke="#141414" stroke-width="0.42">10</text>
<text x="482.1" y="521.9" font-size="6.6" text-anchor="start" fill="#141414" textLength="3.1" lengthAdjust="spacingAndGlyphs" stroke="#141414" stroke-width="0.42">0</text>
<line x1="487.1" x2="488.6" y1="534.8" y2="534.8" stroke="#8e8e8e" stroke-width="0.5"/>
<line x1="487.1" x2="488.6" y1="529.6" y2="529.6" stroke="#8e8e8e" stroke-width="0.5"/>
<line x1="487.1" x2="488.6" y1="525.1" y2="525.1" stroke="#8e8e8e" stroke-width="0.5"/>
<line x1="487.1" x2="488.6" y1="494.3" y2="494.3" stroke="#8e8e8e" stroke-width="0.5"/>
<line x1="487.1" x2="488.6" y1="478.6" y2="478.6" stroke="#8e8e8e" stroke-width="0.5"/>
<line x1="487.1" x2="488.6" y1="467.5" y2="467.5" stroke="#8e8e8e" stroke-width="0.5"/>
<line x1="487.1" x2="488.6" y1="458.9" y2="458.9" stroke="#8e8e8e" stroke-width="0.5"/>
<line x1="487.1" x2="488.6" y1="451.9" y2="451.9" stroke="#8e8e8e" stroke-width="0.5"/>
<line x1="487.1" x2="488.6" y1="446.0" y2="446.0" stroke="#8e8e8e" stroke-width="0.5"/>
<line x1="487.1" x2="488.6" y1="440.8" y2="440.8" stroke="#8e8e8e" stroke-width="0.5"/>
<line x1="487.1" x2="488.6" y1="436.3" y2="436.3" stroke="#8e8e8e" stroke-width="0.5"/>
<line x1="487.1" x2="488.6" y1="405.5" y2="405.5" stroke="#8e8e8e" stroke-width="0.5"/>
<line x1="487.1" x2="488.6" y1="389.8" y2="389.8" stroke="#8e8e8e" stroke-width="0.5"/>
<line x1="487.1" x2="488.6" y1="378.7" y2="378.7" stroke="#8e8e8e" stroke-width="0.5"/>
<line x1="487.1" x2="488.6" y1="370.1" y2="370.1" stroke="#8e8e8e" stroke-width="0.5"/>
<line x1="487.1" x2="488.6" y1="363.1" y2="363.1" stroke="#8e8e8e" stroke-width="0.5"/>
<line x1="487.1" x2="488.6" y1="357.2" y2="357.2" stroke="#8e8e8e" stroke-width="0.5"/>
<line x1="487.1" x2="488.6" y1="352.0" y2="352.0" stroke="#8e8e8e" stroke-width="0.5"/>
<line x1="487.1" x2="488.6" y1="347.5" y2="347.5" stroke="#8e8e8e" stroke-width="0.5"/>
<polyline points="507.2,482.0 515.2,450.4 533.2,381.0 548.6,358.8 559.6,352.9 567.0,353.1 574.8,359.3 579.7,369.4 585.4,378.9 590.3,409.6 593.5,417.4 597.7,422.9 603.0,450.4 606.8,466.0 609.4,467.3 617.6,451.9 622.2,458.3 625.3,457.5 631.2,459.6 645.4,457.0 660.8,456.3 685.0,456.3 715.5,457.0 748.9,458.3 766.9,460.4 787.5,464.7 808.1,470.4 826.1,477.6 838.9,484.6 849.2,490.0 858.2,493.6 868.5,495.4" fill="none" stroke="#ff7f0e" stroke-width="1.65" stroke-opacity="0.47" stroke-linejoin="round" stroke-linecap="round"/>
<polyline points="507.2,482.0 532.2,483.5 559.2,484.0 566.9,486.6 574.6,486.1 580.3,487.6 585.4,485.1 590.1,485.3 593.9,486.9 597.8,485.3 604.2,486.6 609.4,486.1 617.6,490.5 621.7,486.9 626.1,488.7 631.2,488.2 635.1,493.0 639.5,488.2 644.1,491.2 649.2,491.8 653.1,491.2 657.5,493.6 662.1,491.8 667.9,494.8 671.7,492.0 675.6,493.6 679.4,496.4 682.5,493.6 686.4,495.6 692.3,495.1 697.4,496.1 702.1,494.3 709.0,498.2 714.2,498.2 719.3,499.5 725.7,500.0 730.4,498.7 733.5,500.2 737.3,505.4 745.0,503.8 751.5,504.6 754.6,502.3 757.9,504.6 761.8,505.4 765.1,503.8 769.5,507.7 774.6,507.7 782.3,509.2 791.3,511.8 795.2,511.3 800.4,513.6 804.2,513.4 811.9,516.7 819.6,516.2 831.2,520.3 837.7,520.8 849.2,524.7 857.0,527.3 863.4,527.5 868.5,529.1" fill="none" stroke="#1f77b4" stroke-width="1.65" stroke-opacity="0.47" stroke-linejoin="round" stroke-linecap="round"/>
</g>
<rect x="0" y="0" width="894" height="1" fill="#000"/>
<rect x="0" y="0" width="1" height="568" fill="#000"/>
<rect x="0" y="561" width="894" height="7" fill="#000"/>
</svg>
</body></html>
